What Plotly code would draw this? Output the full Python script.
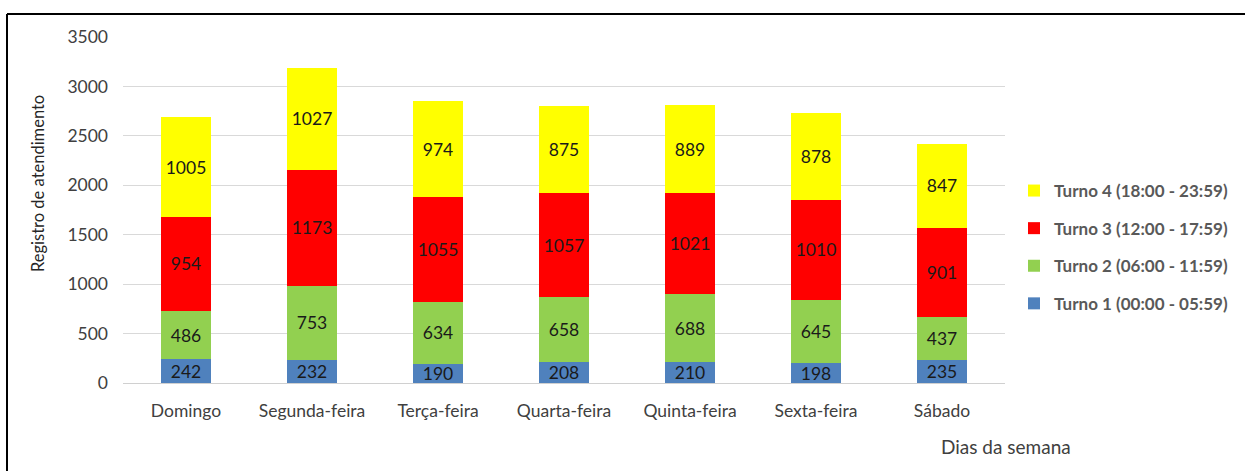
import plotly.graph_objects as go

dias = ["Domingo", "Segunda-feira", "Terça-feira", "Quarta-feira", "Quinta-feira", "Sexta-feira", "Sábado"]
turno1 = [242, 232, 190, 208, 210, 198, 235]
turno2 = [486, 753, 634, 658, 688, 645, 437]
turno3 = [954, 1173, 1055, 1057, 1021, 1010, 901]
turno4 = [1005, 1027, 974, 875, 889, 878, 847]
nomes = ["Turno 1 (00:00 - 05:59)", "Turno 2 (06:00 - 11:59)",
         "Turno 3 (12:00 - 17:59)", "Turno 4 (18:00 - 23:59)"]
cores = ["#4F81BD", "#92D050", "#FF0000", "#FFFF00"]
y_ticks = [0, 500, 1000, 1500, 2000, 2500, 3000, 3500]

FONT = "Lato, 'Open Sans', sans-serif"

fig = go.Figure()
for i, (nome, vals, cor) in enumerate(zip(nomes, [turno1, turno2, turno3, turno4], cores)):
    fig.add_trace(go.Bar(
        x=dias, y=vals, name=nome, legendgroup=str(i), legendrank=10 - i,
        marker=dict(color=cor, line=dict(width=0)),
        text=vals, textposition="inside", insidetextanchor="middle",
        textfont=dict(family=FONT, size=17.5, color="#1a1a1a"),
        constraintext="none", cliponaxis=False,
    ))

L, R, T, B = 123, 1005, 37, 383
W, H = 1245, 471
pw, ph = R - L, B - T
def px(x):
    return (x - L) / pw
def py(y):
    return (B - y) / ph

fig.update_layout(
    width=W, height=H, barmode="stack", bargap=0.6,
    margin=dict(l=L, r=W - R, t=T, b=H - B, pad=0, autoexpand=False),
    paper_bgcolor="white", plot_bgcolor="white",
    font=dict(family=FONT, color="#595959", size=15),
    uniformtext=dict(minsize=17, mode="show"),
    showlegend=True,
    legend=dict(
        traceorder="grouped", tracegroupgap=12.5,
        x=px(1014), y=py(173), xanchor="left", yanchor="top",
        font=dict(family=FONT, size=17, color="#595959", weight="bold"),
        itemwidth=30, bgcolor="rgba(0,0,0,0)",
    ),
    xaxis=dict(
        range=[-0.5, 6.5], showgrid=False, showline=True, linecolor="#d0d0d0", linewidth=1,
        ticks="", tickfont=dict(family=FONT, size=17.5, color="#404040"),
        ticklabelstandoff=12,
    ),
    yaxis=dict(
        range=[0, 3500], tickvals=y_ticks, showgrid=True, gridcolor="#d9d9d9", gridwidth=1,
        zeroline=False, showline=False, ticks="",
        tickfont=dict(family=FONT, size=17.5, color="#404040"),
        ticklabelstandoff=14,
    ),
    shapes=[
        dict(type="line", xref="paper", yref="paper", x0=px(7), x1=px(7), y0=py(14), y1=py(475),
             line=dict(color="black", width=2)),
        dict(type="line", xref="paper", yref="paper", x0=px(7), x1=px(1245), y0=py(14), y1=py(14),
             line=dict(color="black", width=2)),
    ],
    annotations=[
        dict(text="Registro de atendimento", xref="paper", yref="paper", x=px(38), y=py(184),
             textangle=-90, showarrow=False, xanchor="center", yanchor="middle",
             font=dict(family=FONT, size=16.5, color="#262626")),
        dict(text="Dias da semana", xref="paper", yref="paper", x=px(1006), y=py(447),
             showarrow=False, xanchor="center", yanchor="middle",
             font=dict(family=FONT, size=19, color="#404040")),
    ],
)

fig.write_html("out.html", config={"displayModeBar": False},
               post_script="document.body.style.margin='0';document.body.style.overflow='hidden';")
